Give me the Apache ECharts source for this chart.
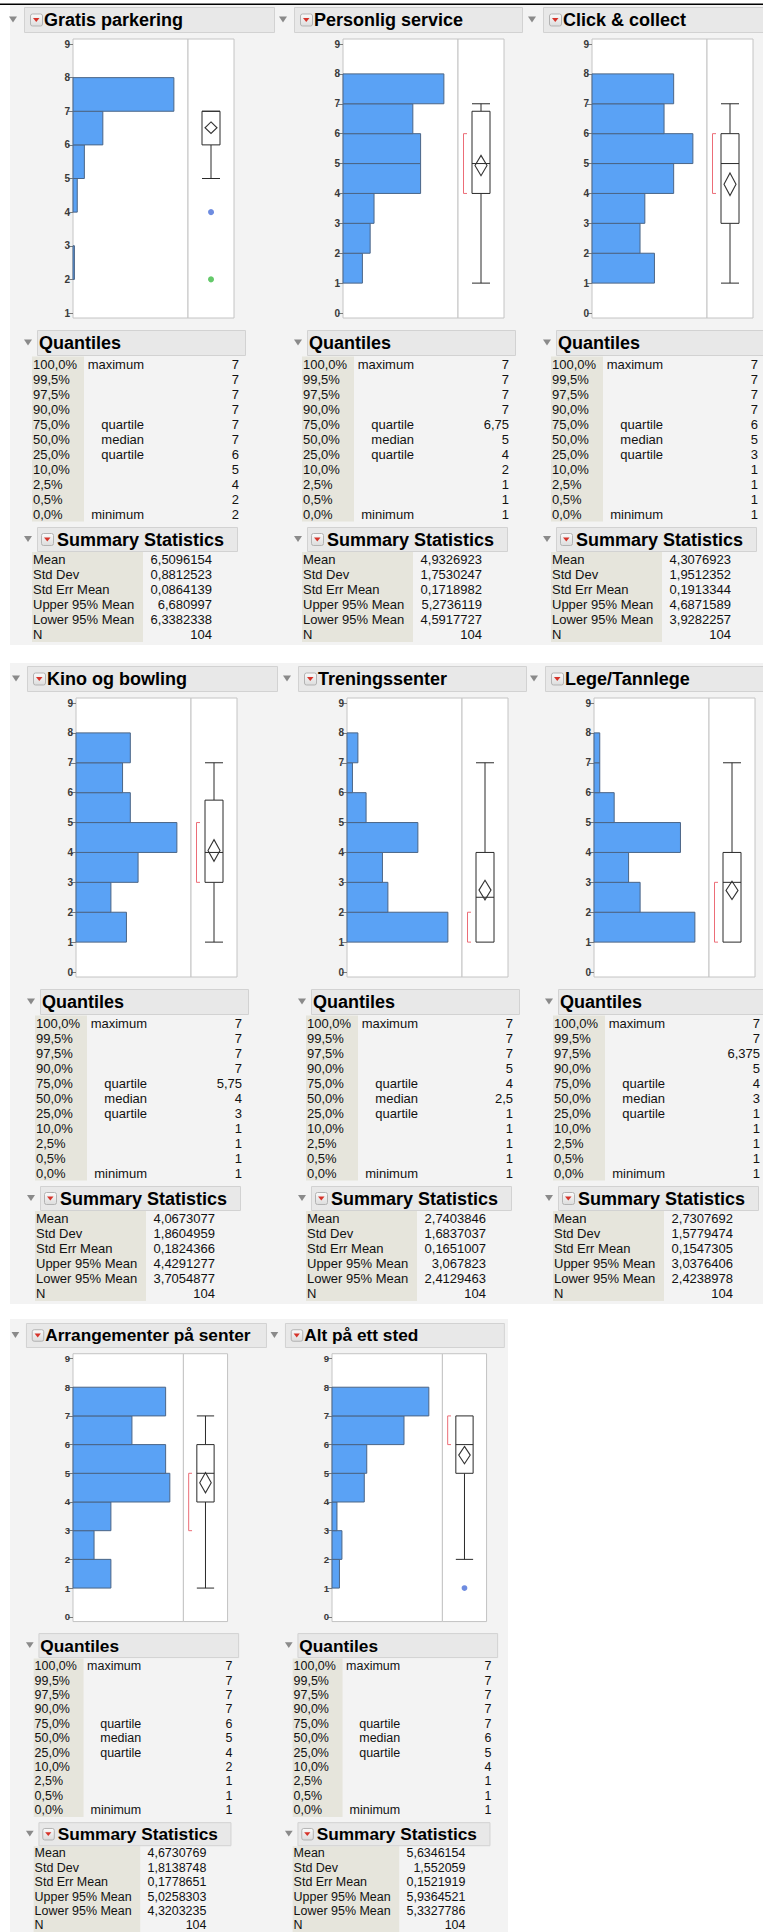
<!DOCTYPE html>
<html>
<head>
<meta charset="utf-8">
<script src="https://cdn.jsdelivr.net/npm/echarts@6/dist/echarts.min.js"></script>
<style>
  html, body { margin: 0; padding: 0; background: #fff; }
  #c { width: 763px; height: 1932px; }
</style>
</head>
<body>
<div id="c"></div>
<script>
// ---- Distribution data: eight survey items, N = 104 answers each on a 1-7 scale ----
const variables = ['Gratis parkering', 'Personlig service', 'Click & collect', 'Kino og bowling',
                   'Treningssenter', 'Lege/Tannlege', 'Arrangementer på senter', 'Alt på ett sted'];

// histogram bins: bin v covers [v, v+1)
const binValues = [1, 2, 3, 4, 5, 6, 7];
const countsGratis      = [0, 1, 0, 3, 8, 21, 71];
const countsPersonlig   = [5, 7, 8, 20, 20, 18, 26];
const countsClick       = [13, 10, 11, 17, 21, 15, 17];
const countsKino        = [13, 9, 16, 26, 14, 12, 14];
const countsTrening     = [37, 15, 13, 26, 7, 2, 4];
const countsLege        = [35, 16, 12, 30, 7, 2, 2];
const countsArrangement = [9, 5, 9, 23, 22, 14, 22];
const countsAlt         = [3, 4, 2, 13, 14, 29, 39];

// axis tick labels
const ticksFromOne  = [1, 2, 3, 4, 5, 6, 7, 8, 9];
const ticksFromZero = [0, 1, 2, 3, 4, 5, 6, 7, 8, 9];

// quantile table
const quantilePercents = [100, 99.5, 97.5, 90, 75, 50, 25, 10, 2.5, 0.5, 0];
const quantileNames = ['maximum', '', '', '', 'quartile', 'median', 'quartile', '', '', '', 'minimum'];
const quantilesGratis      = [7, 7, 7, 7, 7, 7, 6, 5, 4, 2, 2];
const quantilesPersonlig   = [7, 7, 7, 7, 6.75, 5, 4, 2, 1, 1, 1];
const quantilesClick       = [7, 7, 7, 7, 6, 5, 3, 1, 1, 1, 1];
const quantilesKino        = [7, 7, 7, 7, 5.75, 4, 3, 1, 1, 1, 1];
const quantilesTrening     = [7, 7, 7, 5, 4, 2.5, 1, 1, 1, 1, 1];
const quantilesLege        = [7, 7, 6.375, 5, 4, 3, 1, 1, 1, 1, 1];
const quantilesArrangement = [7, 7, 7, 7, 6, 5, 4, 2, 1, 1, 1];
const quantilesAlt         = [7, 7, 7, 7, 7, 6, 5, 4, 1, 1, 1];

// summary statistics table
const summaryNames = ['Mean', 'Std Dev', 'Std Err Mean', 'Upper 95% Mean', 'Lower 95% Mean', 'N'];
const summaryGratis      = [6.5096154, 0.8812523, 0.0864139, 6.680997, 6.3382338, 104];
const summaryPersonlig   = [4.9326923, 1.7530247, 0.1718982, 5.2736119, 4.5917727, 104];
const summaryClick       = [4.3076923, 1.9512352, 0.1913344, 4.6871589, 3.9282257, 104];
const summaryKino        = [4.0673077, 1.8604959, 0.1824366, 4.4291277, 3.7054877, 104];
const summaryTrening     = [2.7403846, 1.6837037, 0.1651007, 3.067823, 2.4129463, 104];
const summaryLege        = [2.7307692, 1.5779474, 0.1547305, 3.0376406, 2.4238978, 104];
const summaryArrangement = [4.6730769, 1.8138748, 0.1778651, 5.0258303, 4.3203235, 104];
const summaryAlt         = [5.6346154, 1.552059, 0.1521919, 5.9364521, 5.3327786, 104];

// shortest half (densest 50 % of the answers)
const shortestHalfGratis      = [7, 7];
const shortestHalfPersonlig   = [4, 6];
const shortestHalfClick       = [4, 6];
const shortestHalfKino        = [3, 5];
const shortestHalfTrening     = [1, 2];
const shortestHalfLege        = [1, 3];
const shortestHalfArrangement = [3, 5];
const shortestHalfAlt         = [6, 7];

// ---- look ----
const FONT = '"Liberation Sans", Arial, Helvetica, sans-serif';
const BAR_FILL = '#5aa2f5', BAR_EDGE = '#4b6586';
const FRAME = '#c4c4c4';
// marker colour of outlying answers, by answer value
const OUTLIER_COLORS = { 1: '#4a6fd8', 2: '#3dbb45', 4: '#4a6fd8' };

const panels = [
  { counts: countsGratis,      q: quantilesGratis,      sum: summaryGratis,      half: shortestHalfGratis,      ticks: ticksFromOne },
  { counts: countsPersonlig,   q: quantilesPersonlig,   sum: summaryPersonlig,   half: shortestHalfPersonlig,   ticks: ticksFromZero },
  { counts: countsClick,       q: quantilesClick,       sum: summaryClick,       half: shortestHalfClick,       ticks: ticksFromZero },
  { counts: countsKino,        q: quantilesKino,        sum: summaryKino,        half: shortestHalfKino,        ticks: ticksFromZero },
  { counts: countsTrening,     q: quantilesTrening,     sum: summaryTrening,     half: shortestHalfTrening,     ticks: ticksFromZero },
  { counts: countsLege,        q: quantilesLege,        sum: summaryLege,        half: shortestHalfLege,        ticks: ticksFromZero },
  { counts: countsArrangement, q: quantilesArrangement, sum: summaryArrangement, half: shortestHalfArrangement, ticks: ticksFromZero },
  { counts: countsAlt,         q: quantilesAlt,         sum: summaryAlt,         half: shortestHalfAlt,         ticks: ticksFromZero }
];
panels.forEach((p, i) => { p.title = variables[i]; });

// placement: frame left edge per panel, row origin and scale
const placement = [
  { row: 0, F: 73,  headW: 201 }, { row: 0, F: 343, headW: 179 }, { row: 0, F: 592, headW: 240 },
  { row: 1, F: 76,  headW: 201 }, { row: 1, F: 347, headW: 179 }, { row: 1, F: 594, headW: 240 },
  { row: 2, F: 73,  headW: 201 }, { row: 2, F: 332, headW: 179 }
];
const rowSpec = [{ top: 7, s: 1 }, { top: 666, s: 1 }, { top: 1323, s: 0.96 }];
const rowBg = [
  { x: 10, y: 5,    w: 753, h: 640 },
  { x: 10, y: 663,  w: 753, h: 641 },
  { x: 10, y: 1319, w: 498, h: 613 }
];

const fmt = v => String(v).replace('.', ',');
const fmtPct = v => v.toFixed(1).replace('.', ',') + '%';

const grids = [], xAxes = [], yAxes = [], series = [], graphics = [];

rowBg.forEach(b => graphics.push({ type: 'rect', z: -100, silent: true,
  shape: { x: b.x, y: b.y, width: b.w, height: b.h }, style: { fill: '#f3f3f3' } }));
graphics.push({ type: 'rect', z: 50, silent: true, shape: { x: 0, y: 3.5, width: 763, height: 1.5 }, style: { fill: '#000' } });

function text(x, y, str, size, align, weight, color) {
  graphics.push({ type: 'text', z: 20, silent: true, x: x, y: y,
    style: { text: str, font: (weight || 'normal') + ' ' + size + 'px ' + FONT,
             fill: color || '#111', align: align, verticalAlign: 'middle',
             textAlign: align, textVerticalAlign: 'middle' } });
}
function disclosure(x, y, s) {
  graphics.push({ type: 'polygon', z: 20, silent: true,
    shape: { points: [[x - 4 * s, y - 3 * s], [x + 4 * s, y - 3 * s], [x, y + 3 * s]] }, style: { fill: '#8a8a8a' } });
}
function headerBox(x0, x1, y0, y1) {
  graphics.push({ type: 'rect', z: 10, silent: true, shape: { x: x0 + 0.5, y: y0 + 0.5, width: x1 - x0, height: y1 - y0 },
    style: { fill: '#e8e8e8', stroke: '#d2d2d2', lineWidth: 1 } });
}
function menuIcon(x, y, s) {
  const w = 12 * s;
  graphics.push({ type: 'rect', z: 15, silent: true, shape: { x: x + 0.5, y: y + 0.5, width: w, height: w, r: 2 },
    style: { fill: { type: 'linear', x: 0, y: 0, x2: 0, y2: 1, colorStops: [{ offset: 0, color: '#fbfbfb' }, { offset: 1, color: '#dcdcdc' }] },
             stroke: '#b3b3b3', lineWidth: 1 } });
  graphics.push({ type: 'polygon', z: 16, silent: true,
    shape: { points: [[x + 3 * s, y + 4.5 * s], [x + 9.5 * s, y + 4.5 * s], [x + 6.25 * s, y + 8.5 * s]] }, style: { fill: '#d6332a' } });
}

panels.forEach((p, i) => {
  const P = placement[i], R = rowSpec[P.row], s = R.s, F = P.F, T = R.top;
  const Y = r => T + r * s;
  const lo = p.ticks[0], hi = p.ticks[p.ticks.length - 1];
  const pad = (hi - lo) * 5 / 269;
  const gTop = Y(32), gH = 279 * s, hW = 115 * s, bW = 46 * s;
  const gi = grids.length;

  const gridBase = { top: gTop, height: gH, show: true, backgroundColor: '#fff', borderColor: FRAME, borderWidth: 1,
                     containLabel: false, outerBoundsMode: 'none' };
  grids.push(Object.assign({ left: F, width: hW }, gridBase));
  grids.push(Object.assign({ left: F + hW, width: bW }, gridBase));

  const maxCount = Math.max.apply(null, p.counts);
  xAxes.push({ gridIndex: gi, type: 'value', min: 0, max: maxCount * 1.14, show: false });
  xAxes.push({ gridIndex: gi + 1, type: 'value', min: 0, max: 1, show: false });
  const yBase = { type: 'value', min: lo - pad, max: hi + pad, splitLine: { show: false }, axisLine: { show: false } };
  yAxes.push(Object.assign({ gridIndex: gi,
    axisTick: { show: true, length: 5 * s, customValues: p.ticks, lineStyle: { color: '#7a7a7a' } },
    axisLabel: { show: true, customValues: p.ticks, fontSize: 10 * s, fontWeight: 'bold', color: '#3a3a3a', margin: 3, fontFamily: FONT }
  }, yBase));
  yAxes.push(Object.assign({ gridIndex: gi + 1, show: false }, yBase));

  // histogram bars
  series.push({
    type: 'custom', xAxisIndex: gi, yAxisIndex: gi, silent: true,
    data: binValues.map((v, k) => [v, p.counts[k]]).filter(d => d[1] > 0),
    renderItem: (params, api) => {
      const v = api.value(0), c = api.value(1);
      const a = api.coord([0, v + 1]), b = api.coord([c, v]);
      return { type: 'rect', shape: { x: a[0], y: a[1], width: b[0] - a[0], height: b[1] - a[1] },
               style: { fill: BAR_FILL, stroke: BAR_EDGE, lineWidth: 1 } };
    }
  });

  // outlier box plot from the quantile table and the observed values
  const q1 = p.q[6], med = p.q[5], q3 = p.q[4], iqr = q3 - q1;
  const present = binValues.filter((v, k) => p.counts[k] > 0);
  const inside = present.filter(v => v >= q1 - 1.5 * iqr && v <= q3 + 1.5 * iqr);
  const wLo = Math.min.apply(null, inside), wHi = Math.max.apply(null, inside);
  const outliers = present.filter(v => inside.indexOf(v) < 0);
  const mean = p.sum[0], up95 = p.sum[3], low95 = p.sum[4];

  series.push({
    type: 'custom', xAxisIndex: gi + 1, yAxisIndex: gi + 1, silent: true,
    data: [[q1, med, q3, wLo, wHi, mean, low95, up95, p.half[0], p.half[1]]],
    renderItem: (params, api) => {
      const cx = api.coord([0.5, 0])[0];
      const yv = v => api.coord([0.5, v])[1];
      const Q1 = api.value(0), MED = api.value(1), Q3 = api.value(2), WLO = api.value(3), WHI = api.value(4);
      const M = api.value(5), LO = api.value(6), HI = api.value(7), H0 = api.value(8), H1 = api.value(9);
      const hw = 9 * s, dw = 6 * s;
      const ink = { stroke: '#2a2a2a', lineWidth: 1, fill: null };
      const kids = [];
      if (WHI > Q3) {
        kids.push({ type: 'line', shape: { x1: cx, y1: yv(Q3), x2: cx, y2: yv(WHI) }, style: ink });
        kids.push({ type: 'line', shape: { x1: cx - hw, y1: yv(WHI), x2: cx + hw, y2: yv(WHI) }, style: ink });
      }
      if (WLO < Q1) {
        kids.push({ type: 'line', shape: { x1: cx, y1: yv(Q1), x2: cx, y2: yv(WLO) }, style: ink });
        kids.push({ type: 'line', shape: { x1: cx - hw, y1: yv(WLO), x2: cx + hw, y2: yv(WLO) }, style: ink });
      }
      kids.push({ type: 'rect', shape: { x: cx - hw, y: yv(Q3), width: 2 * hw, height: yv(Q1) - yv(Q3) },
                  style: { fill: '#fff', stroke: '#2a2a2a', lineWidth: 1 } });
      kids.push({ type: 'line', shape: { x1: cx - hw, y1: yv(MED), x2: cx + hw, y2: yv(MED) }, style: ink });
      kids.push({ type: 'polygon', shape: { points: [[cx, yv(HI)], [cx + dw, yv(M)], [cx, yv(LO)], [cx - dw, yv(M)]] },
                  style: { fill: null, stroke: '#333', lineWidth: 1.1 } });
      if (H1 > H0) {
        const bx = cx - 17.5 * s, tx = cx - 14 * s;
        kids.push({ type: 'polyline', shape: { points: [[tx, yv(H1)], [bx, yv(H1)], [bx, yv(H0)], [tx, yv(H0)]] },
                    style: { fill: null, stroke: '#ec6d77', lineWidth: 1 } });
      }
      return { type: 'group', children: kids };
    }
  });

  if (outliers.length) {
    series.push({
      type: 'scatter', xAxisIndex: gi + 1, yAxisIndex: gi + 1, silent: true, symbolSize: 6 * s,
      data: outliers.map(v => ({ value: [0.5, v], itemStyle: { color: OUTLIER_COLORS[v] || '#4a6fd8' } }))
    });
  }

  // outline header with title
  headerBox(F - 49 * s, F + P.headW * s, Y(0), Y(25));
  disclosure(F - 60 * s, Y(12.5), s);
  menuIcon(F - 43 * s, Y(6.5), s);
  text(F - 29 * s, Y(13), p.title, 18 * s, 'left', 'bold', '#000');

  // quantiles table
  const L = F - 41 * s;
  headerBox(L + 5 * s, L + 213 * s, Y(323), Y(348));
  disclosure(L - 4 * s, Y(335.5), s);
  text(L + 7 * s, Y(336), 'Quantiles', 18 * s, 'left', 'bold', '#000');
  graphics.push({ type: 'rect', z: 5, silent: true, shape: { x: L, y: Y(349.5), width: 52 * s, height: 165 * s }, style: { fill: '#e6e5dc' } });
  quantilePercents.forEach((pc, k) => {
    const yc = Y(357.5 + 15 * k);
    text(L + 1 * s, yc, fmtPct(pc), 13 * s, 'left');
    if (quantileNames[k]) text(L + 112 * s, yc, quantileNames[k], 13 * s, 'right');
    text(L + 207 * s, yc, fmt(p.q[k]), 13 * s, 'right');
  });

  // summary statistics table
  headerBox(L + 5 * s, L + 205 * s, Y(520), Y(544));
  disclosure(L - 4 * s, Y(532), s);
  menuIcon(L + 9 * s, Y(526), s);
  text(L + 25 * s, Y(532.5), 'Summary Statistics', 18 * s, 'left', 'bold', '#000');
  graphics.push({ type: 'rect', z: 5, silent: true, shape: { x: L, y: Y(545), width: 111 * s, height: 90 * s }, style: { fill: '#e6e5dc' } });
  summaryNames.forEach((nm, k) => {
    const yc = Y(552.5 + 15 * k);
    text(L + 1 * s, yc, nm, 13 * s, 'left');
    text(L + 180 * s, yc, fmt(p.sum[k]), 13 * s, 'right');
  });
});

const chart = echarts.init(document.getElementById('c'), null, { renderer: 'svg', width: 763, height: 1932 });
chart.setOption({
  animation: false,
  backgroundColor: '#fff',
  grid: grids,
  xAxis: xAxes,
  yAxis: yAxes,
  series: series,
  graphic: { elements: graphics }
});
</script>
</body>
</html>
